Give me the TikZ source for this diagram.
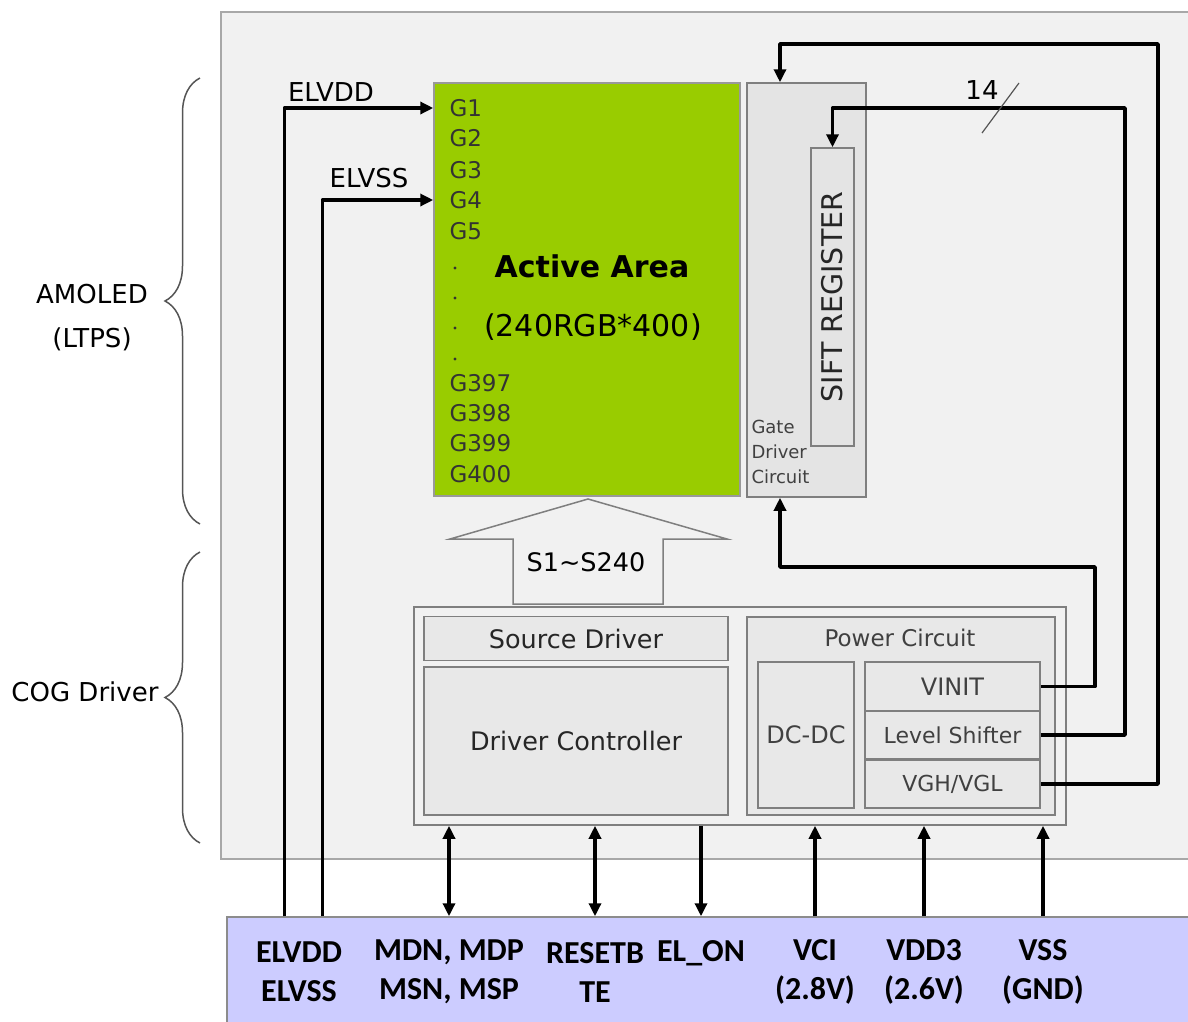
\documentclass[tikz,border=0pt]{standalone}
\usepackage{fontspec}
\setmainfont{DejaVu Sans}
\newfontfamily\pinfont{Carlito}
\usetikzlibrary{arrows.meta, calc, decorations.pathreplacing}
\definecolor{cpanel}{HTML}{F1F1F1}
\definecolor{cpanl}{HTML}{A8A8A8}
\definecolor{cgreen}{HTML}{99CC00}
\definecolor{cgate}{HTML}{E4E4E4}
\definecolor{cbox}{HTML}{E8E8E8}
\definecolor{cline}{HTML}{7F7F7F}
\definecolor{cpins}{HTML}{CCCCFF}
\definecolor{ctext}{HTML}{404040}
\definecolor{cbrace}{HTML}{555555}
\tikzset{
  every picture/.style={line width=1pt},
  blk/.style={draw=cline, fill=#1, line width=1.5pt, inner sep=0pt},
  blk/.default=cbox,
  wire/.style={draw=black, line width=3.5pt, line join=round, -{Triangle[length=13pt,width=12pt]}},
  both/.style={wire, {Triangle[length=13pt,width=12pt]}-{Triangle[length=13pt,width=12pt]}},
  glab/.style={anchor=west, inner sep=0pt, font=\fontsize{23}{23}\selectfont, text=black!80},
  graytxt/.style={inner sep=0pt, text=ctext, font=\fontsize{22}{22}\selectfont},
  darktxt/.style={inner sep=0pt, text=black!85, font=\fontsize{25.5}{25.5}\selectfont},
  pinlab/.style={inner sep=0pt, font=\pinfont\bfseries\fontsize{32}{39}\selectfont, align=center},
  side/.style={inner sep=0pt, font=\fontsize{26}{44}\selectfont, align=center},
  brc/.style={draw=cbrace, line width=1.5pt, decorate, decoration={brace, amplitude=35pt}},
}

\begin{document}
\begin{tikzpicture}[x=1pt, y=-1pt]
  \useasboundingbox (0,0) rectangle (1188,1021);
  \clip (0,0) rectangle (1188,1021);
  % panel and side braces
  \draw[draw=cpanl, fill=cpanel, line width=1.5pt] (221,12) rectangle (1210,859);
  \draw[brc] (200,524) -- (200,78);
  \draw[brc] (200,843) -- (200,552);
  \node[side] (amoled) at (92,318) {AMOLED\\(LTPS)};
  \node[side] (cogl) at (85,692) {COG Driver};
  % active area
  \node[blk=cgreen, draw=black!40, minimum width=306, minimum height=413] (active) at (587,289.5) {};
  \foreach \y/\t in {108/G1, 138/G2, 170/G3, 200/G4, 231/G5, 383/G397, 413/G398, 443/G399, 474/G400}
    \node[glab] (\t) at (449,\y) {\t};
  \foreach \y in {268,298,328,359}
    \fill[black!80] (455,\y) circle (1.7);
  \node[inner sep=0pt, font=\bfseries\fontsize{30}{30}\selectfont] (aa) at (592,266) {Active Area};
  \node[inner sep=0pt, font=\fontsize{30}{30}\selectfont] (res) at (593,327) {(240RGB*400)};
  % gate driver
  \node[blk=cgate, minimum width=119, minimum height=414] (gate) at (806.5,290) {};
  \node[blk=cgate, minimum width=43, minimum height=298] (sift) at (832.5,297) {};
  \node[rotate=90, inner sep=0pt, text=black!85, font=\fontsize{28.5}{28.5}\selectfont] (siftlab) at (sift.center) {SIFT REGISTER};
  \node[anchor=west, inner sep=0pt, align=left, text=ctext, font=\fontsize{18}{25}\selectfont] (gatelab) at (751,452) {Gate\\Driver\\Circuit};
  % source lines
  \draw[draw=cline, fill=cpanel, line width=1.5pt] (588,499) -- (727,539) -- (663,539) -- (663,604)
    -- (513,604) -- (513,539) -- (450,539) -- cycle;
  \node[inner sep=0pt, font=\fontsize{25.5}{25.5}\selectfont] (sl) at (586,562) {S1\textasciitilde S240};
  % cog driver
  \node[blk, fill=cpanel, minimum width=652, minimum height=218] (cog) at (740,716) {};
  \node[blk, minimum width=304, minimum height=44] (src) at (576,638.5) {};
  \node[darktxt] at (src) {Source Driver};
  \node[blk, minimum width=304, minimum height=148] (ctrl) at (576,741) {};
  \node[darktxt] at (ctrl) {Driver Controller};
  \node[blk, minimum width=308, minimum height=198] (pwr) at (901,716) {};
  \node[graytxt, font=\fontsize{23}{23}\selectfont] (pwrlab) at (900,638) {Power Circuit};
  \node[blk, minimum width=96, minimum height=146] (dcdc) at (806,735) {};
  \node[graytxt, font=\fontsize{24}{24}\selectfont] at (dcdc) {DC-DC};
  \node[blk, minimum width=175, minimum height=49] (vinit) at (952.5,686.5) {};
  \node[graytxt, font=\fontsize{24}{24}\selectfont] at (vinit) {VINIT};
  \node[blk, minimum width=175, minimum height=48] (lvl) at (952.5,735) {};
  \node[graytxt] at (lvl) {Level Shifter};
  \node[blk, minimum width=175, minimum height=48] (vgh) at (952.5,784) {};
  \node[graytxt] at (vgh) {VGH/VGL};
  % gate driver feeds
  \draw[wire] (vinit.east) -| (1095,567) -| ([xshift=-26.5pt]gate.south);
  \draw[wire] (lvl.east) -| (1125,108) -| (sift.north);
  \draw[wire] (vgh.east) -| (1158,44) -| ([xshift=-26.5pt]gate.north);
  \node[inner sep=0pt, font=\fontsize{26}{26}\selectfont] (bus) at (982,90) {14};
  \draw[cbrace, line width=1.2pt] (982,133) -- (1019,83);
  % pins
  \node[blk=cpins, draw=black!45, minimum width=982, minimum height=118] (pins) at (718,976) {};
  \node[pinlab] (pEL) at (299,972) {ELVDD\\ELVSS};
  \node[pinlab] (pMD) at (449,972) {MDN, MDP\\MSN, MSP};
  \node[pinlab] (pRS) at (595,972) {RESETB\\TE};
  \node[pinlab] (pON) at (701,953) {EL\_ON};
  \node[pinlab] (pVCI) at (815,972) {VCI\\(2.8V)};
  \node[pinlab] (pVDD) at (924,972) {VDD3\\(2.6V)};
  \node[pinlab] (pVSS) at (1043,972) {VSS\\(GND)};
  \draw[both] (pMD |- cog.south) -- (pMD |- pins.north);
  \draw[both] (pRS |- cog.south) -- (pRS |- pins.north);
  \draw[wire] (pON |- cog.south) -- (pON |- pins.north);
  \draw[wire] (pVCI |- pins.north) -- (pVCI |- cog.south);
  \draw[wire] (pVDD |- pins.north) -- (pVDD |- cog.south);
  \draw[wire] (pVSS |- pins.north) -- (pVSS |- cog.south);
  % panel supplies
  \draw[wire] ([xshift=58pt]pins.north west) |- (active.west |- G1);
  \draw[wire] ([xshift=96pt]pins.north west) |- (active.west |- G4);
  \node[inner sep=0pt, font=\fontsize{26}{26}\selectfont] (elvdd) at (331,92) {ELVDD};
  \node[inner sep=0pt, font=\fontsize{26}{26}\selectfont] (elvss) at (369,178) {ELVSS};
\end{tikzpicture}
\end{document}
